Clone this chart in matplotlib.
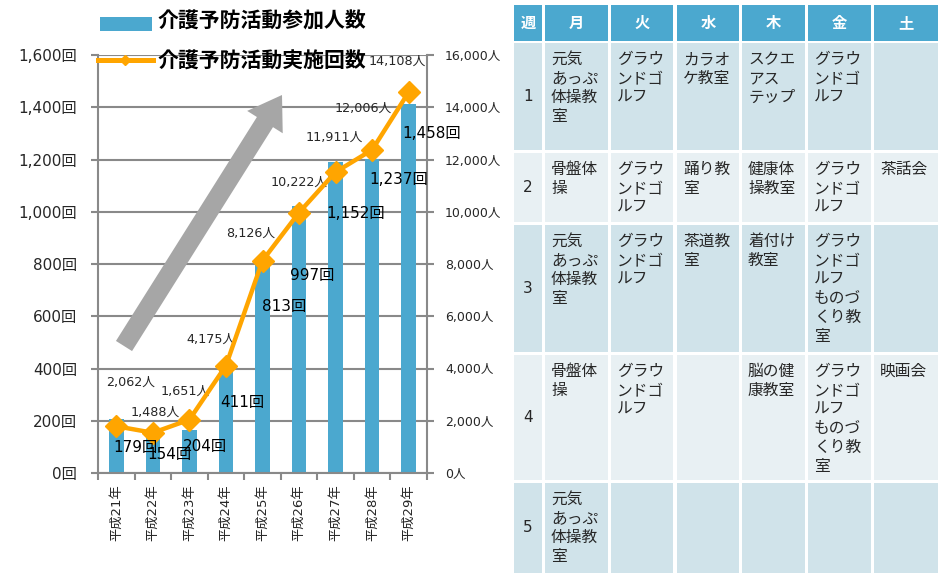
import matplotlib
matplotlib.use('Agg')
import matplotlib.pyplot as plt
from matplotlib.patches import Rectangle, FancyArrow
from matplotlib.lines import Line2D
from matplotlib.transforms import IdentityTransform
from matplotlib.ticker import FuncFormatter, MultipleLocator

plt.rcParams['font.family'] = ['DejaVu Sans', 'Noto Sans CJK JP']

W, H = 942, 573

# chart data
years = ['平成21年', '平成22年', '平成23年', '平成24年', '平成25年',
         '平成26年', '平成27年', '平成28年', '平成29年']
participants = [2062, 1488, 1651, 4175, 8126, 10222, 11911, 12006, 14108]  # 人
sessions = [179, 154, 204, 411, 813, 997, 1152, 1237, 1458]  # 回

# where each label sits relative to its bar top / line point (pixels)
people_offsets = [(14, 37), (2, 22), (-4, 39), (-15, 25), (-12, 27),
                  (0, 24), (-1, 25), (-9, 51), (-11, 43)]
session_offsets = [(19, -21), (17, -22), (16, -27), (16, -37), (22, -46),
                   (13, -63), (20, -41), (27, -30), (23, -41)]

# weekly schedule table
days = ['週', '月', '火', '水', '木', '金', '土']
weeks = ['1', '2', '3', '4', '5']
mon = ['元気\nあっぷ\n体操教\n室', '骨盤体\n操', '元気\nあっぷ\n体操教\n室',
       '骨盤体\n操', '元気\nあっぷ\n体操教\n室']
tue = ['グラウ\nンドゴ\nルフ', 'グラウ\nンドゴ\nルフ', 'グラウ\nンドゴ\nルフ',
       'グラウ\nンドゴ\nルフ', '']
wed = ['カラオ\nケ教室', '踊り教\n室', '茶道教\n室', '', '']
thu = ['スクエ\nアス\nテップ', '健康体\n操教室', '着付け\n教室', '脳の健\n康教室', '']
fri = ['グラウ\nンドゴ\nルフ', 'グラウ\nンドゴ\nルフ',
       'グラウ\nンドゴ\nルフ\nものづ\nくり教\n室',
       'グラウ\nンドゴ\nルフ\nものづ\nくり教\n室', '']
sat = ['', '茶話会', '', '映画会', '']

blue = '#4ba8cf'
orange = '#ffa500'
gray = '#898989'
txt = '#262626'

fig = plt.figure(figsize=(W / 100, H / 100), dpi=100)
pix = IdentityTransform()


def py(y):
    # image rows count from the top, display from the bottom
    return H - y


ax2 = fig.add_axes([98 / W, 1 - 473 / H, 329 / W, 418 / H])
ax = ax2.twinx()
ax.set_zorder(ax2.get_zorder() + 1)
ax.patch.set_visible(False)

x = list(range(len(years)))

# participants: bars on the right axis
ax2.bar(x, participants, width=0.4, color=blue, zorder=2)
ax2.set_ylim(0, 16000)
ax2.set_xlim(-0.5, len(years) - 0.5)
ax2.set_axisbelow(True)
ax2.grid(axis='y', color=gray, lw=1.5)
ax2.yaxis.set_major_locator(MultipleLocator(2000))
ax2.yaxis.tick_right()
ax2.yaxis.set_major_formatter(FuncFormatter(lambda v, p: f'{v:,.0f}人'))
ax2.tick_params(axis='y', direction='out', length=5, width=1.5, color=gray,
                labelsize=9, pad=8, labelcolor=txt)
for s in ['top', 'left', 'bottom']:
    ax2.spines[s].set_visible(False)
ax2.spines['right'].set_color(gray)
ax2.spines['right'].set_linewidth(1.5)

ax2.set_xticks(x)
ax2.set_xticklabels(years, rotation=90, fontsize=9.5, color=txt)
ax2.set_xticks([i - 0.5 for i in range(len(years) + 1)], minor=True)
ax2.tick_params(axis='x', which='major', length=0, pad=8)
ax2.tick_params(axis='x', which='minor', direction='out', length=5, width=1.5, color=gray)

# sessions: line on the left axis
ax.plot(x, sessions, color=orange, lw=3.2, marker='D', markersize=11,
        markeredgecolor=orange, zorder=3)
ax.set_ylim(0, 1600)
ax.yaxis.tick_left()
ax.yaxis.set_major_locator(MultipleLocator(200))
ax.yaxis.set_major_formatter(FuncFormatter(lambda v, p: f'{v:,.0f}回'))
ax.tick_params(axis='y', direction='out', length=5, width=1.5, color=gray,
               labelsize=11, pad=10, labelcolor=txt)
for s in ['top', 'right']:
    ax.spines[s].set_visible(False)
for s in ['left', 'bottom']:
    ax.spines[s].set_color(gray)
    ax.spines[s].set_linewidth(1.5)

for i, v in enumerate(participants):
    dx, dy = people_offsets[i]
    ax2.annotate(f'{v:,}人', (i, v), xytext=(dx, dy), textcoords='offset pixels',
                 ha='center', va='center', fontsize=9.2, color=txt, zorder=5)
for i, v in enumerate(sessions):
    dx, dy = session_offsets[i]
    ax.annotate(f'{v:,}回', (i, v), xytext=(dx, dy), textcoords='offset pixels',
                ha='center', va='center', fontsize=11, color='black', zorder=5)

# upward trend arrow
fig.add_artist(FancyArrow(124, py(346), 158, 251, width=19, head_width=42,
                          head_length=32, length_includes_head=True,
                          color='#a6a6a6', lw=0, transform=pix, zorder=4))

# legend
fig.add_artist(Rectangle((100, py(31)), 52, 14, color=blue, lw=0, transform=pix))
fig.add_artist(Line2D([98, 125, 153], [py(60)] * 3, color=orange, lw=3.6,
                      marker='D', markersize=5, markevery=[1], transform=pix))
legend_font = dict(fontsize=15, fontweight='bold', family='Noto Sans CJK JP',
                   ha='left', va='center', color='black', transform=pix)
fig.text(157, py(21), '介護予防活動参加人数', **legend_font)
fig.text(157, py(61), '介護予防活動実施回数', **legend_font)

# table
col_edges = [(514, 542), (545, 608), (611, 673), (677, 739), (742, 805), (808, 871), (874, 938)]
head_edges = (5, 41)
row_edges = [(43, 150), (153, 222), (225, 352), (355, 480), (483, 573)]
row_colors = ['#d0e3ea', '#e8f0f3', '#d0e3ea', '#e8f0f3', '#d0e3ea']

y0, y1 = head_edges
for (x0, x1), d in zip(col_edges, days):
    fig.add_artist(Rectangle((x0, py(y1)), x1 - x0, y1 - y0, color=blue, lw=0, transform=pix))
    fig.text((x0 + x1) / 2, py((y0 + y1) / 2), d, ha='center', va='center', fontsize=11,
             fontweight='bold', color='white', family='Noto Sans CJK JP', transform=pix)

columns = [weeks, mon, tue, wed, thu, fri, sat]
for r, (y0, y1) in enumerate(row_edges):
    for c, (x0, x1) in enumerate(col_edges):
        fig.add_artist(Rectangle((x0, py(y1)), x1 - x0, y1 - y0, color=row_colors[r],
                                 lw=0, transform=pix))
        label = columns[c][r]
        if c == 0:
            fig.text((x0 + x1) / 2, py((y0 + y1) / 2), label, ha='center', va='center',
                     fontsize=11, color=txt, transform=pix)
            continue
        for k, line in enumerate(label.split('\n')):
            if line:
                fig.text(x0 + 6, py(y0 + 16.5 + 19 * k), line, ha='left', va='center',
                         fontsize=11.3, color=txt, family='Noto Sans CJK JP', transform=pix)

fig.savefig('out.png', dpi=100)
